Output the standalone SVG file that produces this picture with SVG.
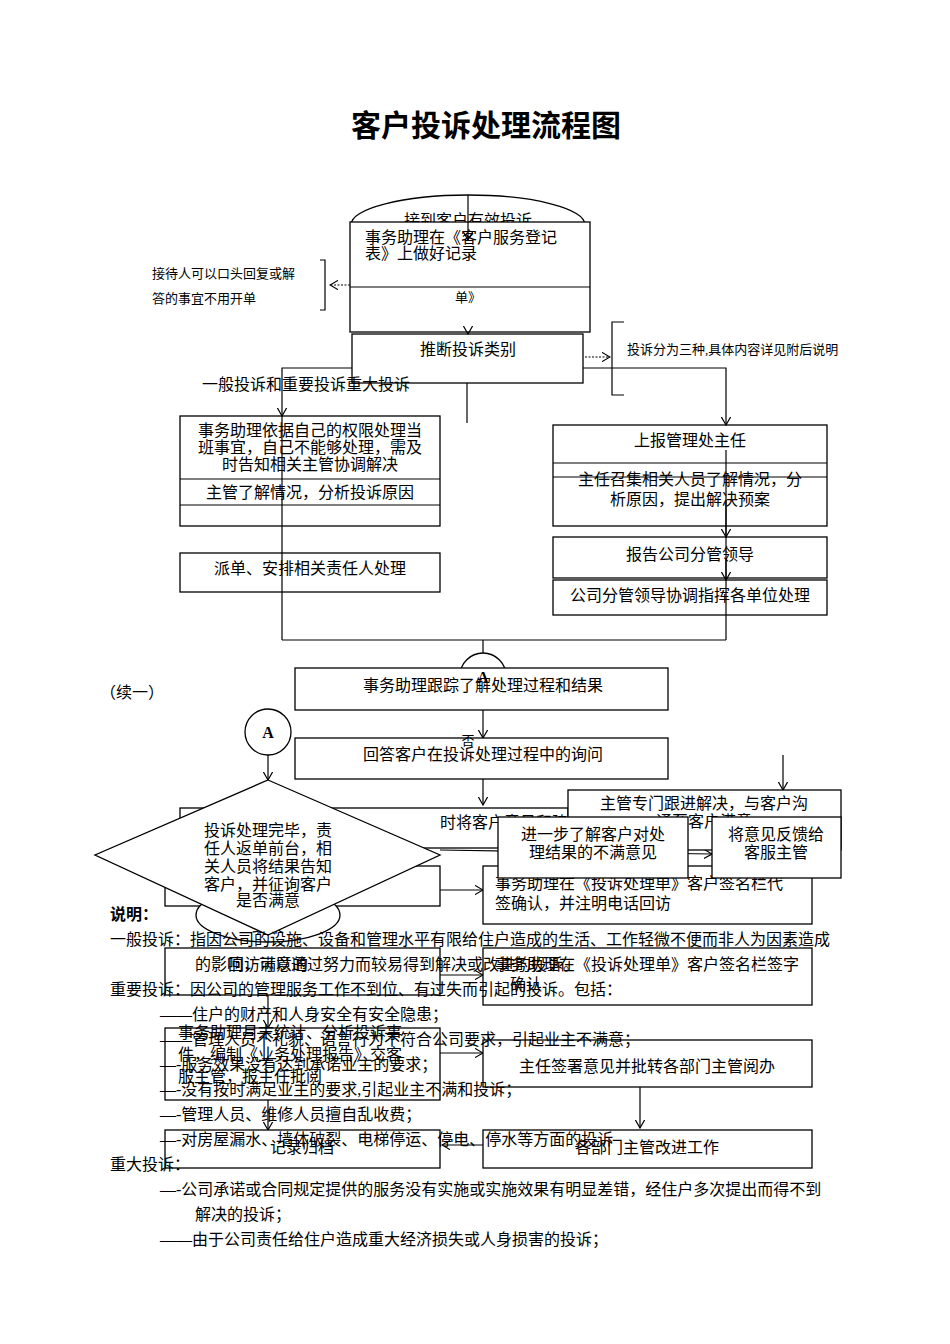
<svg xmlns="http://www.w3.org/2000/svg" width="950" height="1344" viewBox="0 0 950 1344">
<defs><marker id="ar" markerWidth="8" markerHeight="8" refX="7" refY="4" orient="auto"><path d="M0,0L7,4L0,8" fill="none" stroke="#000"/></marker></defs>
<style>
text{font-family:"Liberation Serif","Noto Sans CJK SC",serif;font-size:16px;fill:#000}
.c{text-anchor:middle}
.s{font-size:13px}
rect,ellipse,polygon{fill:#fff;stroke:#000;stroke-width:1.3}
.l{stroke:#000;stroke-width:1.2;fill:none}
.d{stroke:#000;stroke-width:1.2;fill:none;stroke-dasharray:2,1.5}
</style>
<rect width="950" height="1344" style="stroke:none"/>
<text x="486" y="136" class="c" style="font-size:30px;font-weight:bold;font-family:'Noto Sans CJK SC',sans-serif">客户投诉处理流程图</text>
<g id="start"><ellipse cx="468" cy="225" rx="117" ry="30"/><text x="468" y="226" class="c">接到客户有效投诉</text></g>
<g id="n1"><rect x="350" y="222" width="240" height="110"/><line class="l" x1="350" y1="287" x2="590" y2="287"/><text x="365" y="243">事务助理在《客户服务登记</text><text x="365" y="259">表》上做好记录</text><text x="468" y="302" class="c s">单》</text></g>
<g id="note1"><text x="152" y="278" class="s">接待人可以口头回复或解</text><text x="152" y="303" class="s">答的事宜不用开单</text></g>
<g id="n2"><rect x="352" y="334" width="231" height="49"/><text x="468" y="355" class="c">推断投诉类别</text></g>
<g id="note2"><text x="627" y="354" class="s">投诉分为三种,具体内容详见附后说明</text></g>
<text x="202" y="390">一般投诉和重要投诉重大投诉</text>
<g id="n3"><rect x="180" y="416" width="260" height="110"/><line class="l" x1="180" y1="479" x2="440" y2="479"/><line class="l" x1="180" y1="505" x2="440" y2="505"/><text x="310" y="436" class="c">事务助理依据自己的权限处理当</text><text x="310" y="453" class="c">班事宜，自己不能够处理，需及</text><text x="310" y="470" class="c">时告知相关主管协调解决</text><text x="310" y="498" class="c">主管了解情况，分析投诉原因</text></g>
<g id="n4"><rect x="553" y="425" width="274" height="101"/><line class="l" x1="553" y1="463" x2="827" y2="463"/><line class="l" x1="553" y1="477" x2="827" y2="477"/><text x="690" y="446" class="c">上报管理处主任</text><text x="690" y="485" class="c">主任召集相关人员了解情况，分</text><text x="690" y="505" class="c">析原因，提出解决预案</text></g>
<g id="n5"><rect x="180" y="553" width="260" height="39"/><text x="310" y="574" class="c">派单、安排相关责任人处理</text></g>
<g id="n6"><rect x="553" y="537" width="274" height="41"/><text x="690" y="560" class="c">报告公司分管领导</text></g>
<g id="n7"><rect x="553" y="580" width="274" height="35"/><text x="690" y="601" class="c">公司分管领导协调指挥各单位处理</text></g>
<text x="100" y="698">（续一）</text>
<g id="connectors">
<line class="l" x1="468" y1="195" x2="468" y2="240" marker-end="url(#ar)"/>
<line class="l" x1="468" y1="332" x2="468" y2="334" marker-end="url(#ar)"/>
<line class="d" x1="350" y1="285" x2="330" y2="285" marker-end="url(#ar)"/>
<path class="l" d="M320,260H325V310H320"/>
<line class="d" x1="585" y1="357" x2="610" y2="357" marker-end="url(#ar)"/>
<path class="l" d="M624,322H612V395H624"/>
<path class="l" d="M352,368H282V416" marker-end="url(#ar)"/>
<path class="l" d="M583,368H726V425" marker-end="url(#ar)"/>
<line class="l" x1="467" y1="383" x2="467" y2="423"/>
<line class="l" x1="282" y1="416" x2="282" y2="640"/>
<line class="l" x1="726" y1="450" x2="726" y2="640"/>
<line class="l" x1="726" y1="500" x2="726" y2="537" marker-end="url(#ar)"/>
<line class="l" x1="726" y1="560" x2="726" y2="580" marker-end="url(#ar)"/>
<line class="l" x1="282" y1="640" x2="726" y2="640"/>
<line class="l" x1="483" y1="640" x2="483" y2="668" marker-end="url(#ar)"/>
<line class="l" x1="483" y1="710" x2="483" y2="738" marker-end="url(#ar)"/>
<line class="l" x1="483" y1="779" x2="483" y2="805" marker-end="url(#ar)"/>
<line class="l" x1="268" y1="755" x2="268" y2="780" marker-end="url(#ar)"/>
<line class="l" x1="783" y1="755" x2="783" y2="790" marker-end="url(#ar)"/>
<line class="l" x1="440" y1="850" x2="712" y2="854" marker-end="url(#ar)"/>
<line class="l" x1="440" y1="890" x2="483" y2="890" marker-end="url(#ar)"/>
<line class="l" x1="440" y1="975" x2="483" y2="975" marker-end="url(#ar)"/>
<line class="l" x1="268" y1="995" x2="268" y2="1028" marker-end="url(#ar)"/>
<line class="l" x1="440" y1="1053" x2="483" y2="1053" marker-end="url(#ar)"/>
<line class="l" x1="640" y1="1087" x2="640" y2="1128" marker-end="url(#ar)"/>
<line class="l" x1="483" y1="1145" x2="442" y2="1145" marker-end="url(#ar)"/>
<line class="l" x1="268" y1="1100" x2="268" y2="1130" marker-end="url(#ar)"/>
</g>
<g id="a1"><ellipse cx="483" cy="676" rx="23" ry="23"/></g>
<g id="n8"><rect x="295" y="668" width="373" height="42"/><text x="483" y="691" class="c">事务助理跟踪了解处理过程和结果</text><text x="483" y="683" class="c" style="font-weight:bold">A</text></g>
<g id="a2"><ellipse cx="268" cy="732" rx="23" ry="23"/><text x="268" y="738" class="c" style="font-weight:bold">A</text></g>
<g id="n9"><rect x="295" y="738" width="373" height="41"/><text x="483" y="760" class="c">回答客户在投诉处理过程中的询问</text><text x="468" y="745" class="c s">否</text></g>
<g id="n10"><rect x="180" y="808" width="388" height="40"/><text x="440" y="828">时将客户意见和建</text></g>
<g id="n11"><rect x="568" y="790" width="273" height="60"/><text x="704" y="809" class="c">主管专门跟进解决，与客户沟</text><text x="704" y="827" class="c">通至客户满意</text></g>
<g id="n12"><rect x="165" y="866" width="275" height="40"/></g>
<g id="n13"><rect x="483" y="866" width="329" height="58"/><text x="495" y="889">事务助理在《投诉处理单》客户签名栏代</text><text x="495" y="909">签确认，并注明电话回访</text></g>
<g id="n14"><rect x="498" y="817" width="190" height="61"/><text x="593" y="840" class="c">进一步了解客户对处</text><text x="593" y="858" class="c">理结果的不满意见</text></g>
<g id="n15"><rect x="712" y="817" width="129" height="61"/><text x="776" y="840" class="c">将意见反馈给</text><text x="776" y="858" class="c">客服主管</text></g>
<g id="end"><ellipse cx="268" cy="915" rx="72" ry="27"/><text x="268" y="932" class="c">结束</text></g>
<g id="dec"><polygon points="268,780 440,855 268,935 95,855"/><text x="268" y="836" class="c">投诉处理完毕，责</text><text x="268" y="854" class="c">任人返单前台，相</text><text x="268" y="872" class="c">关人员将结果告知</text><text x="268" y="890" class="c">客户，并征询客户</text><text x="268" y="906" class="c">是否满意</text></g>
<g id="n16"><rect x="165" y="948" width="275" height="47"/><text x="268" y="970" class="c">回访满意的</text></g>
<g id="n17"><rect x="483" y="948" width="329" height="57"/><text x="495" y="970">事务助理在《投诉处理单》客户签名栏签字</text><text x="510" y="990">确认</text></g>
<g id="n18"><rect x="165" y="1028" width="275" height="72"/><text x="178" y="1038">事务助理月末统计、分析投诉事</text><text x="178" y="1060">件，编制《业务处理报告》交客</text><text x="178" y="1082">服主管，报主任批阅</text></g>
<g id="n19"><rect x="483" y="1040" width="329" height="47"/><text x="647" y="1072" class="c">主任签署意见并批转各部门主管阅办</text></g>
<g id="n20"><rect x="165" y="1130" width="275" height="38"/><text x="302" y="1153" class="c">记录归档</text></g>
<g id="n21"><rect x="483" y="1130" width="329" height="38"/><text x="647" y="1153" class="c">各部门主管改进工作</text></g>
<g id="notes">
<text x="110" y="920" style="font-weight:bold">说明：</text>
<text x="110" y="945">一般投诉：指因公司的设施、设备和管理水平有限给住户造成的生活、工作轻微不便而非人为因素造成</text>
<text x="195" y="970">的影响，可以通过努力而较易得到解决或改进的投诉。</text>
<text x="110" y="995">重要投诉：因公司的管理服务工作不到位、有过失而引起的投诉。包括：</text>
<text x="160" y="1020">——住户的财产和人身安全有安全隐患；</text>
<text x="160" y="1045">——管理人员不礼貌、语言行为不符合公司要求，引起业主不满意；</text>
<text x="160" y="1070">—-服务效果没有达到承诺业主的要求；</text>
<text x="160" y="1095">—-没有按时满足业主的要求,引起业主不满和投诉；</text>
<text x="160" y="1120">—-管理人员、维修人员擅自乱收费；</text>
<text x="160" y="1145">—-对房屋漏水、墙体破裂、电梯停运、停电、停水等方面的投诉</text>
<text x="110" y="1170">重大投诉：</text>
<text x="160" y="1195">—-公司承诺或合同规定提供的服务没有实施或实施效果有明显差错，经住户多次提出而得不到</text>
<text x="195" y="1220">解决的投诉；</text>
<text x="160" y="1245">——由于公司责任给住户造成重大经济损失或人身损害的投诉；</text>
</g>
</svg>
